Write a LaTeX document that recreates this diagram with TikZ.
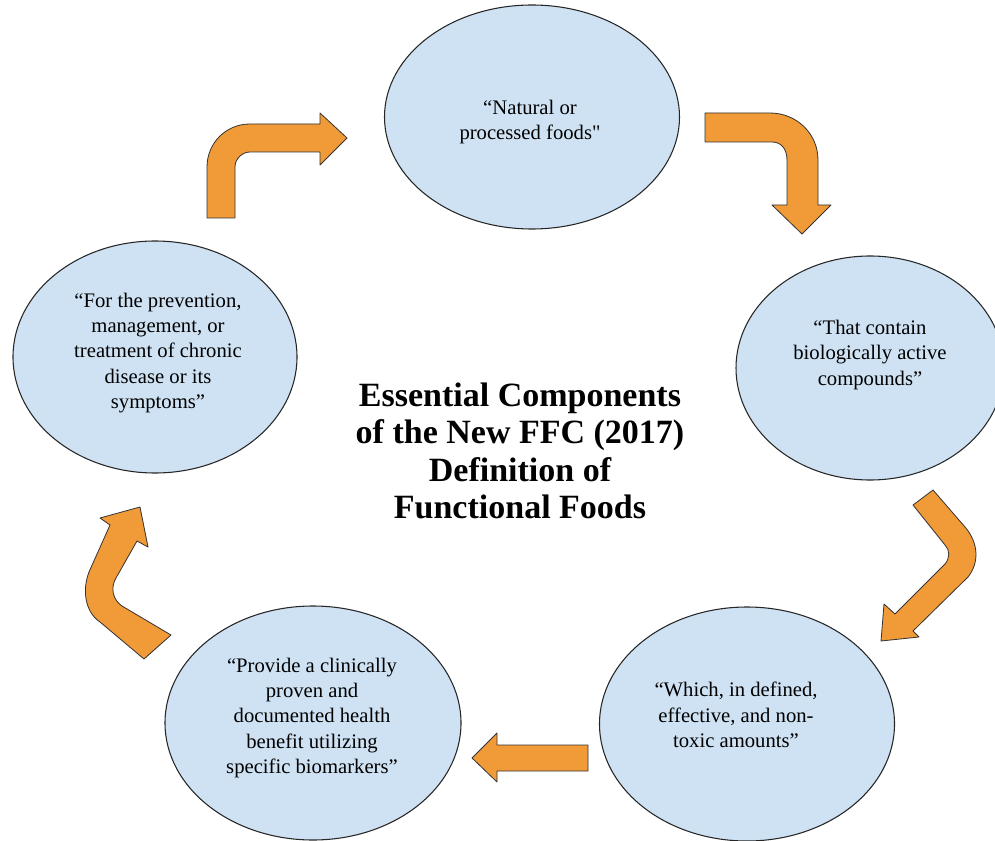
\documentclass[tikz,border=0pt]{standalone}
\usepackage{fontspec}
\setmainfont{Liberation Serif}
\usetikzlibrary{shapes.geometric}
\definecolor{bubblefill}{RGB}{207,226,243}
\definecolor{arrowfill}{RGB}{241,154,56}

\begin{document}
\begin{tikzpicture}[
  x=0.75pt, y=-0.75pt,
  font=\fontsize{15.5}{19}\selectfont,
  bubble/.style n args={2}{ellipse, draw=black!85, line width=0.8pt, fill=bubblefill, inner sep=0pt, minimum width=#1*0.75pt, minimum height=#2*0.75pt},
  txt/.style={align=center, inner sep=0pt},
  heading/.style={align=center, inner sep=0pt, font=\fontsize{25.5}{28}\selectfont\bfseries},
  bigarrow/.style={draw=black!80, line width=0.6pt, fill=arrowfill, line join=round}
]
\useasboundingbox (0,0) rectangle (995,841);

\node[bubble={295}{224}] (foods) at (532,117) {};
\node[bubble={268}{224}] (compounds) at (870,368) {};
\node[bubble={295}{234}] (amounts) at (747,724) {};
\node[bubble={296}{234}] (benefit) at (313,723) {};
\node[bubble={284}{232}] (prevention) at (155,357) {};

\node[txt] (foodsText) at (530,122) {“Natural or\\processed foods\textquotedbl};
\node[txt] (compoundsText) at (870,355) {“That contain\\biologically active\\compounds”};
\node[txt] (amountsText) at (736,715) {“Which, in defined,\\effective, and non-\\toxic amounts”};
\node[txt] (benefitText) at (312,718) {“Provide a clinically\\proven and\\documented health\\benefit utilizing\\specific biomarkers”};
\node[txt] (preventionText) at (158,353) {“For the prevention,\\management, or\\treatment of chronic\\disease or its\\symptoms”};

\node[heading] (title) at (520,451) {Essential Components\\of the New FFC (2017)\\Definition of\\Functional Foods};

% block arrows between the bubbles
\draw[bigarrow] (705,113) -- (770,113) .. controls (797,113) and (818,134) .. (818,160) -- (818,205) -- (831,205) -- (802,234) -- (772,205) -- (787,205) -- (787,160) .. controls (787,150) and (782,142) .. (772,142) -- (705,142) -- cycle;
\draw[bigarrow] (913,505) -- (933,490) -- (965,527) .. controls (978,542) and (980,562) .. (968,577) -- (913,631) -- (919,637) -- (881,641) -- (884,604) -- (895,614) -- (945,564) .. controls (950,558) and (950,550) .. (945,545) -- cycle;
\draw[bigarrow] (588,745) -- (497,745) -- (497,733) -- (472,758) -- (497,782) -- (497,771) -- (588,771) -- cycle;
\draw[bigarrow] (144,659) -- (171,635) -- (122,606) .. controls (113,600) and (110,588) .. (116,578) -- (137,541) -- (148,547) -- (140,507) -- (100,518) -- (110,525) -- (89,572) .. controls (82,590) and (85,612) .. (100,622) -- cycle;
\draw[bigarrow] (207,218) -- (207,167) .. controls (207,143) and (226,124) .. (250,124) -- (320,124) -- (320,113) -- (347,138) -- (320,165) -- (320,152) -- (250,152) .. controls (242,152) and (235,159) .. (235,167) -- (235,218) -- cycle;
\end{tikzpicture}
\end{document}
